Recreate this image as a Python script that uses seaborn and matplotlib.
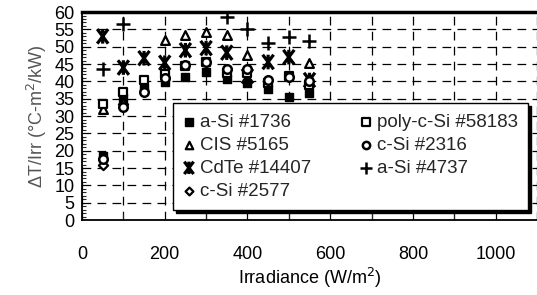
import numpy as np
import pandas as pd
import matplotlib
matplotlib.use("Agg")
import matplotlib.pyplot as plt
from matplotlib.ticker import MultipleLocator
from matplotlib.path import Path
from matplotlib.markers import MarkerStyle
import seaborn as sns
import warnings
warnings.filterwarnings("ignore")

nan = np.nan
irradiance = [50, 100, 150, 200, 250, 300, 350, 400, 450, 500, 550]
a_si_1736 = [18.5, 35.2, 38.0, 39.8, 41.2, 42.6, 40.8, 39.5, 37.8, 35.4, 36.8]
cis_5165 = [32.0, nan, nan, 52.0, 53.4, 54.2, 53.4, 47.6, nan, nan, 45.4]
cdte_14407 = [53.0, 44.0, 46.7, 45.4, 49.0, 49.6, 48.3, 41.5, 45.6, 47.0, 40.4]
c_si_2577 = [16.0, 33.5, nan, nan, nan, nan, nan, nan, nan, nan, nan]
poly_c_si_58183 = [33.5, 37.0, 40.4, 42.0, 44.5, 45.5, 42.5, 42.5, 39.5, 41.5, 39.0]
c_si_2316 = [17.5, 32.6, 37.0, 41.0, 44.7, 45.6, 43.5, 43.5, 40.4, 41.2, 40.0]
a_si_4737 = [43.5, 56.5, nan, nan, nan, nan, 58.6, 55.0, 51.2, 52.8, 51.7]

labels = ["a-Si #1736", "CIS #5165", "CdTe #14407", "c-Si #2577",
          "poly-c-Si #58183", "c-Si #2316", "a-Si #4737"]
values = [a_si_1736, cis_5165, cdte_14407, c_si_2577,
          poly_c_si_58183, c_si_2316, a_si_4737]

# asterisk marker: X plus a vertical bar (stroked only)
_dx, _dy = 0.75, 1.0
star_path = Path(
    [(0, -1), (0, 1), (-_dx, -_dy), (_dx, _dy), (-_dx, _dy), (_dx, -_dy)],
    [Path.MOVETO, Path.LINETO, Path.MOVETO, Path.LINETO, Path.MOVETO, Path.LINETO],
)
star_marker = MarkerStyle(star_path, fillstyle="none")

sns.set_style("white")
plt.rcParams["font.family"] = ["Liberation Sans", "DejaVu Sans"]

fig = plt.figure(figsize=(5.37, 2.95), dpi=100)
ax = fig.add_axes([0.1527, 0.254, 0.8473, 0.705])

styles = {
    "a-Si #1736": dict(marker="s", s=38, facecolor="black", edgecolor="black", linewidth=1),
    "CIS #5165": dict(marker="^", s=40, facecolor="white", edgecolor="black", linewidth=1.6),
    "CdTe #14407": dict(marker=star_marker, s=110, facecolor="black", linewidth=2.3),
    "c-Si #2577": dict(marker="D", s=22, facecolor="white", edgecolor="black", linewidth=1.6),
    "poly-c-Si #58183": dict(marker="s", s=38, facecolor="white", edgecolor="black", linewidth=1.6),
    "c-Si #2316": dict(marker="o", s=38, facecolor="white", edgecolor="black", linewidth=1.8),
    "a-Si #4737": dict(marker="+", s=110, color="black", linewidth=1.8),
}

for lab, vals in zip(labels, values):
    df = pd.DataFrame({"x": irradiance, "y": vals}).dropna()
    sns.scatterplot(data=df, x="x", y="y", ax=ax, label=lab, zorder=3, **styles[lab])

ax.set_xlim(0, 1100)
ax.set_ylim(0, 60)
ax.xaxis.set_major_locator(MultipleLocator(200))
ax.xaxis.set_minor_locator(MultipleLocator(100))
ax.yaxis.set_major_locator(MultipleLocator(5))
ax.yaxis.set_minor_locator(MultipleLocator(1))

ax.grid(True, which="major", axis="y", color="black", linestyle=(0, (7, 5)), linewidth=0.9)
ax.grid(True, which="both", axis="x", color="black", linestyle=(0, (7, 5)), linewidth=0.9)
ax.set_axisbelow(True)

for side in ["left", "bottom"]:
    ax.spines[side].set_color("black")
    ax.spines[side].set_linewidth(1.3)
ax.spines["top"].set_color("black")
ax.spines["top"].set_linewidth(2.5)
ax.spines["right"].set_visible(False)

ax.tick_params(axis="y", which="major", direction="inout", length=7, width=1, labelsize=13, pad=2, colors="black")
ax.tick_params(axis="y", which="minor", direction="in", length=3, width=0.8, left=True)
ax.tick_params(axis="x", which="major", direction="inout", length=9, width=1, labelsize=13, pad=14, colors="black")
ax.tick_params(axis="x", which="minor", direction="in", length=4, width=0.8, bottom=True)

ax.set_xlabel("Irradiance (W/m$^2$)", fontsize=13, labelpad=2, color="black")
ax.set_ylabel("ΔT/Irr (°C-m$^2$/kW)", fontsize=13, labelpad=4, color="#555555")

leg = ax.legend(loc="upper left", bbox_to_anchor=(0.2, 0.5625), ncol=2,
                fontsize=13.5, frameon=True, fancybox=False,
                shadow={"color": "black", "alpha": 1.0},
                edgecolor="black", framealpha=1, borderpad=0.55,
                labelspacing=0.32, handlelength=0.6, handletextpad=0.3,
                columnspacing=2.6, borderaxespad=0, markerscale=0.85)
leg.get_frame().set_linewidth(1)

fig.savefig("out.png", dpi=100)
